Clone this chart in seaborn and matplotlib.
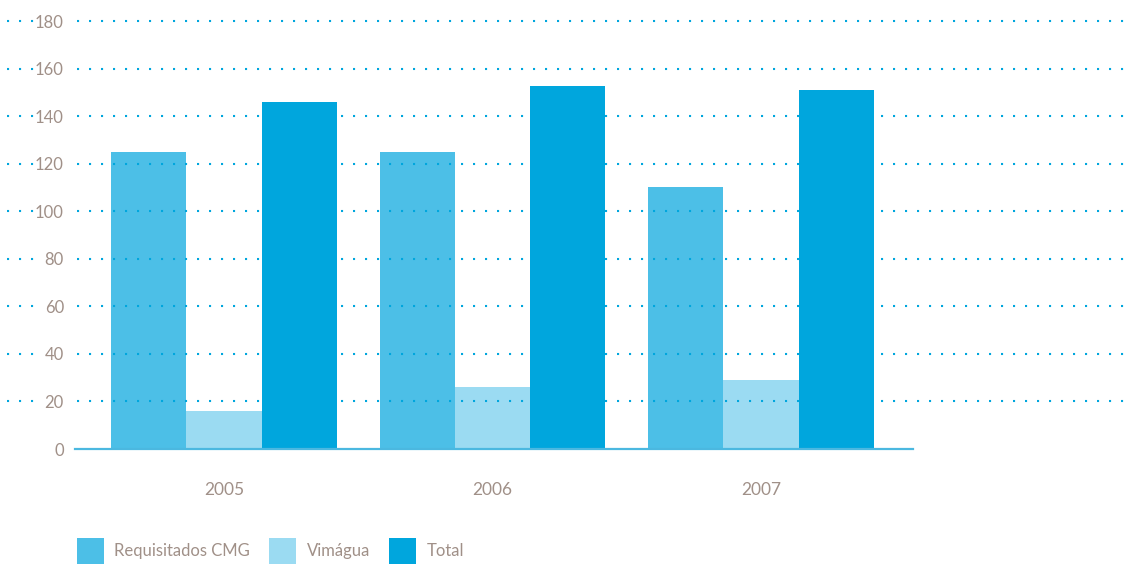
import matplotlib
matplotlib.use("Agg")
import matplotlib.pyplot as plt
import seaborn as sns
import pandas as pd

years = ["2005", "2006", "2007"]
series = ["Requisitados CMG", "Vimágua", "Total"]
requisitados = [125, 125, 110]
vimagua = [16, 26, 29]
total = [146, 152.5, 151]
yticks = [0, 20, 40, 60, 80, 100, 120, 140, 160, 180]

colors = ["#4cbfe7", "#9bdbf2", "#00a6dd"]
text_color = "#a09088"
dot_color = "#00a6dd"

df = pd.DataFrame({
    "year": years * 3,
    "series": [series[0]] * 3 + [series[1]] * 3 + [series[2]] * 3,
    "value": requisitados + vimagua + total,
})

sns.set_theme(style="white")
plt.rcParams["font.family"] = ["Lato", "DejaVu Sans"]

W, H = 1131, 564
fig = plt.figure(figsize=(W / 100, H / 100), dpi=100)
ax_left, ax_right = 75, 1131
ax_top, ax_bot = 21, 449
ax = fig.add_axes([ax_left / W, (H - ax_bot) / H, (ax_right - ax_left) / W, (ax_bot - ax_top) / H])

sns.barplot(data=df, x="year", y="value", hue="series", order=years, hue_order=series,
            palette=colors, width=0.84, gap=0, saturation=1, ax=ax, legend=True,
            linewidth=0, zorder=2)

spacing = 268.5
x0px = 224
ax.set_xlim((ax_left - x0px) / spacing, (ax_right - x0px) / spacing)
ax.set_ylim(0, 180)

for s in ["top", "right", "left"]:
    ax.spines[s].set_visible(False)
ax.spines["bottom"].set_color("#4bb8e0")
ax.spines["bottom"].set_linewidth(1.6)
ax.spines["bottom"].set_bounds((ax_left - x0px) / spacing, (913 - x0px) / spacing)
ax.spines["bottom"].set_zorder(4)

lw = 1.5
on = 1.0
dash = (on, 8.64 / lw - on)
start_main = (77 - ax_left) / (ax_right - ax_left)
left_frac = (7 - ax_left) / (ax_right - ax_left)
left_end = (34 - ax_left) / (ax_right - ax_left)
for v in yticks[1:]:
    ax.axhline(v, xmin=start_main, xmax=1.0, color=dot_color, lw=lw, dashes=dash,
               dash_capstyle="butt", zorder=3, clip_on=False)
    ax.axhline(v, xmin=left_frac, xmax=left_end, color=dot_color, lw=lw, dashes=dash,
               dash_capstyle="butt", zorder=3, clip_on=False)

ax.set_yticks(yticks)
ax.set_yticklabels([str(t) for t in yticks])
ax.tick_params(axis="y", length=0, pad=8, labelsize=12, labelcolor=text_color)
ax.tick_params(axis="x", length=0, pad=24, labelsize=12.5, labelcolor=text_color)
ax.set_xlabel("")
ax.set_ylabel("")
ax.grid(False)

handles, labels = ax.get_legend_handles_labels()
ax.get_legend().remove()
leg = fig.legend(handles, labels, loc="lower left", bbox_to_anchor=(77 / W, 0.0 / H),
                 ncol=3, frameon=False, handlelength=1.62, handleheight=2.05,
                 handletextpad=0.62, columnspacing=1.15, borderaxespad=0, borderpad=0,
                 prop={"size": 12})
for t in leg.get_texts():
    t.set_color(text_color)

fig.savefig("out.png", dpi=100)
